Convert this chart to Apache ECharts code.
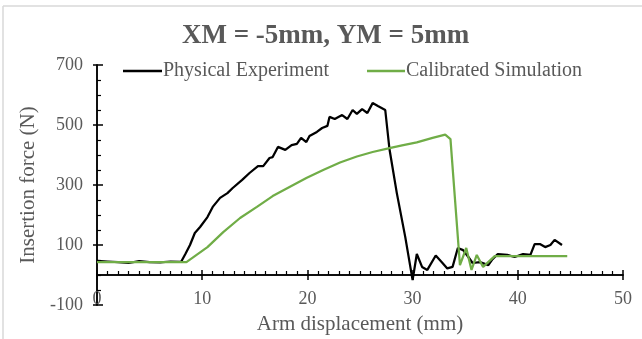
<!DOCTYPE html>
<html>
<head>
<meta charset="utf-8">
<script src="https://cdn.jsdelivr.net/npm/echarts@6/dist/echarts.min.js"></script>
<style>
html,body{margin:0;padding:0;background:#fff;}
#c{width:642px;height:339px;}
</style>
</head>
<body>
<div id="c"></div>
<script>
const titleText = 'XM = -5mm, YM = 5mm';
const seriesNames = ['Physical Experiment', 'Calibrated Simulation'];
const expX = [0,1,2,3,4,5,6,7,8,8.4,8.84,9.3,9.8,10.5,11.0,11.7,12.4,12.9,13.8,14.5,15.3,15.8,16.4,16.7,17.2,17.9,18.5,19.0,19.4,19.9,20.2,20.9,21.4,21.9,22.1,22.6,23.3,23.8,24.3,24.7,25.2,25.7,26.2,26.7,27.4,27.8,28.5,29.3,30.0,30.4,30.9,31.4,32.2,32.8,33.3,33.8,34.3,34.8,35.3,35.7,36.4,37.2,37.6,38.1,39.0,39.7,40.5,41.2,41.6,42.1,42.6,43.1,43.5,44.2];
const expY = [47,45,43,40,46,43,42,45,44,70,100,140,160,193,227,257,273,290,317,340,363,363,390,393,427,417,433,437,457,443,463,477,490,497,527,520,533,520,550,537,553,540,573,563,550,420,273,127,-17,70,27,17,65,42,22,27,90,83,60,40,43,33,53,70,67,60,70,67,103,103,93,100,117,100];
const simX = [0,2,4,6,8.5,10.5,12,13.6,15.2,16.7,18.3,19.9,21.5,23.1,24.7,26.2,27.8,29,30.4,31.9,33.1,33.6,34.5,35.1,35.6,36.1,36.7,37.8,44.7];
const simY = [43,43,43,43,43,93,143,190,227,263,293,323,350,375,395,410,423,432,442,457,468,453,33,90,17,67,27,63,63];
const xTicks = {min: 0, max: 50, step: 10};
const yTicks = {min: -100, max: 700, step: 200};
const xName = 'Arm displacement (mm)';
const yName = 'Insertion force (N)';

const expData = expX.map((x, i) => [x, expY[i]]);
const simData = simX.map((x, i) => [x, simY[i]]);

const grey = '#595959';
const font = 'Liberation Serif';
const gridPos = {left: 97, right: 19, top: 65, bottom: 34};

const chart = echarts.init(document.getElementById('c'), null, {renderer: 'canvas'});
chart.setOption({
  animation: false,
  backgroundColor: '#fff',
  title: {
    text: titleText, left: 182, top: 23, padding: 0,
    textStyle: {fontFamily: font, fontSize: 27, fontWeight: 'bold', color: grey}
  },
  legend: [
    {data: [seriesNames[0]], left: 123, top: 61, padding: 0, icon: 'rect', itemWidth: 39, itemHeight: 2.5, itemGap: 0,
     textStyle: {fontFamily: font, fontSize: 20, color: grey, padding: [0,0,0,-4]}},
    {data: [seriesNames[1]], left: 367, top: 61, padding: 0, icon: 'rect', itemWidth: 38, itemHeight: 2.5, itemGap: 0,
     textStyle: {fontFamily: font, fontSize: 20, color: grey, padding: [0,0,0,-4]}}
  ],
  graphic: [
    {type: 'line', shape: {x1: 3, y1: 6, x2: 642, y2: 6}, style: {stroke: '#d9d9d9', lineWidth: 1.5}, silent: true},
    {type: 'line', shape: {x1: 3, y1: 6, x2: 3, y2: 339}, style: {stroke: '#d9d9d9', lineWidth: 1.5}, silent: true}
  ],
  grid: [
    Object.assign({containLabel: false, outerBoundsMode: 'none'}, gridPos),
    Object.assign({containLabel: false, outerBoundsMode: 'none'}, gridPos)
  ],
  xAxis: [
    {
      type: 'value', gridIndex: 0, position: 'bottom', min: xTicks.min, max: xTicks.max, interval: xTicks.step,
      name: xName, nameLocation: 'middle', nameGap: 9,
      nameTextStyle: {fontFamily: font, fontSize: 21, color: grey},
      axisLine: {show: true, onZero: true, lineStyle: {color: '#000', width: 1.5}},
      axisTick: {show: true, inside: true, length: 5, lineStyle: {color: '#000', width: 1.5}},
      minorTick: {show: true, splitNumber: 10, length: 4, lineStyle: {color: '#000', width: 1.2}},
      axisLabel: {fontFamily: font, fontSize: 18, color: grey, margin: -15},
      splitLine: {show: false}
    },
    {
      type: 'value', gridIndex: 1, position: 'bottom', min: xTicks.min, max: xTicks.max, interval: xTicks.step,
      axisLine: {show: true, onZero: true, lineStyle: {color: '#000', width: 1.5}},
      axisTick: {show: true, inside: false, length: 5, lineStyle: {color: '#000', width: 1.5}},
      axisLabel: {show: false}, splitLine: {show: false}
    }
  ],
  yAxis: [
    {
      type: 'value', gridIndex: 0, position: 'left', min: yTicks.min, max: yTicks.max, interval: yTicks.step,
      name: yName, nameLocation: 'middle', nameGap: 56, nameRotate: 90,
      nameTextStyle: {fontFamily: font, fontSize: 21, color: grey},
      axisLine: {show: true, onZero: false, lineStyle: {color: '#000', width: 1.5}},
      axisTick: {show: true, inside: true, length: 6, lineStyle: {color: '#000', width: 1.5}},
      minorTick: {show: true, splitNumber: 4, length: 4, lineStyle: {color: '#000', width: 1.2}},
      axisLabel: {fontFamily: font, fontSize: 18, color: grey, margin: 14},
      splitLine: {show: false}
    },
    {
      type: 'value', gridIndex: 1, position: 'left', min: yTicks.min, max: yTicks.max, interval: yTicks.step,
      axisLine: {show: true, onZero: false, lineStyle: {color: '#000', width: 1.5}},
      axisTick: {show: true, inside: false, length: 4, lineStyle: {color: '#000', width: 1.5}},
      axisLabel: {show: false}, splitLine: {show: false}
    }
  ],
  series: [
    {name: seriesNames[0], type: 'line', xAxisIndex: 0, yAxisIndex: 0, data: expData, symbol: 'none',
     lineStyle: {color: '#000000', width: 2.25}, itemStyle: {color: '#000000'}, z: 3},
    {name: seriesNames[1], type: 'line', xAxisIndex: 0, yAxisIndex: 0, data: simData, symbol: 'none',
     lineStyle: {color: '#70ad47', width: 2.25}, itemStyle: {color: '#70ad47'}, z: 4}
  ]
});
</script>
</body>
</html>
